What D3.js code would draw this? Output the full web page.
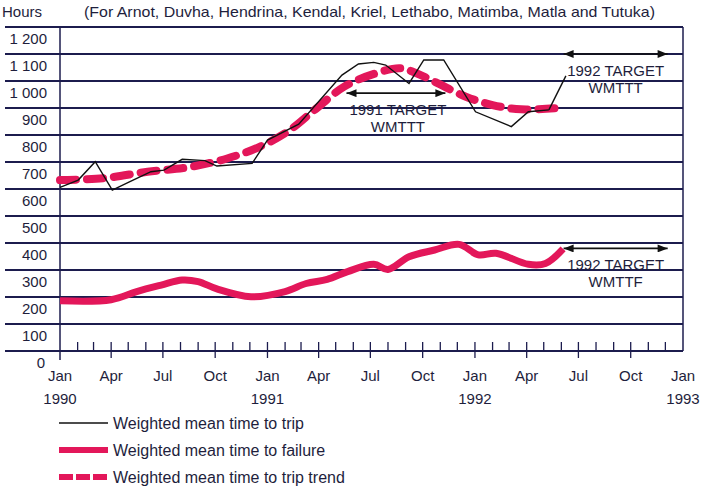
<!DOCTYPE html>
<html>
<head>
<meta charset="utf-8">
<script src="https://cdn.jsdelivr.net/npm/d3@7"></script>
<style>
  body { margin: 0; background: #fff; }
  #chart { width: 702px; height: 488px; }
  text { font-family: "Liberation Sans", Arial, sans-serif; font-size: 15px; fill: #1e1e3c; }
  .legend text { font-size: 16px; }
</style>
</head>
<body>
<div id="chart"></div>
<script>
// values (hours)
const tripDates = ['1990-01-01', '1990-02-02', '1990-03-04', '1990-04-03', '1990-05-04', '1990-06-10',
  '1990-07-03', '1990-08-04', '1990-09-13', '1990-10-04', '1990-12-05', '1991-01-01', '1991-02-25',
  '1991-05-12', '1991-06-10', '1991-07-07', '1991-07-28', '1991-09-07', '1991-10-03', '1991-11-07',
  '1992-01-02', '1992-03-05', '1992-04-04', '1992-05-10'];
const tripHours = [606, 633, 701, 596, 627, 664, 670, 710, 705, 685, 695, 781, 840,
  1022, 1063, 1069, 1059, 991, 1078, 1078, 886, 831, 886, 893];

const failureDates = ['1990-01-01', '1990-04-01', '1990-05-16', '1990-06-28', '1990-08-04', '1990-09-01',
  '1990-10-04', '1990-12-03', '1991-02-01', '1991-03-10', '1991-04-16', '1991-05-22', '1991-07-07',
  '1991-08-01', '1991-09-07', '1991-10-22', '1991-12-04', '1992-01-07', '1992-02-07', '1992-04-04',
  '1992-05-04', '1992-06-04'];
const failureHours = [186, 190, 220, 244, 263, 257, 230, 201, 220, 250, 265, 294, 321,
  302, 349, 374, 395, 356, 362, 321, 324, 378];

const trendDates = ['1990-01-01', '1990-03-19', '1990-06-04', '1990-08-13', '1990-10-22', '1990-12-19',
  '1991-02-07', '1991-03-25', '1991-05-16', '1991-07-10', '1991-08-22', '1991-09-19', '1991-10-28',
  '1991-12-16', '1992-02-01', '1992-03-22', '1992-06-07'];
const trendHours = [633, 640, 664, 680, 713, 757, 815, 893, 979, 1028, 1047, 1030, 991,
  942, 911, 895, 902];

const targetNames = [['1991 TARGET', 'WMTTT'], ['1992 TARGET', 'WMTTT'], ['1992 TARGET', 'WMTTF']];
const targetFrom = ['1991-05-20', '1992-06-05', '1992-06-05'];
const targetTo = ['1991-11-10', '1992-12-05', '1992-12-05'];
const targetHours = [955, 1100, 380];

const yTicks = [0, 100, 200, 300, 400, 500, 600, 700, 800, 900, 1000, 1100, 1200];
const monthNames = ['Jan', 'Apr', 'Jul', 'Oct'];
const years = [1990, 1991, 1992, 1993];

const legendLabels = ['Weighted mean time to trip', 'Weighted mean time to failure', 'Weighted mean time to trip trend'];

const RED = '#e3175a';
const NAVY = '#1c1c4e';

class ReliabilityChart {
  constructor(parentContainer) {
    this.width = 702;
    this.height = 488;
    this.createElements(parentContainer);
    this.updateElements();
  }

  createElements(parentContainer) {
    this.svg = d3.select(parentContainer)
      .append('svg')
      .attr('width', this.width)
      .attr('height', this.height);

    const defs = this.svg.append('defs');
    defs.append('marker')
      .attr('id', 'head')
      .attr('viewBox', '0 0 10 8')
      .attr('refX', 10)
      .attr('refY', 4)
      .attr('markerUnits', 'userSpaceOnUse')
      .attr('markerWidth', 11)
      .attr('markerHeight', 8)
      .attr('orient', 'auto-start-reverse')
      .append('path')
      .attr('d', 'M0,0 L10,4 L0,8 Z')
      .attr('fill', '#111');
  }

  updateElements() {
    const svg = this.svg;
    const parse = d3.timeParse('%Y-%m-%d');

    const x = d3.scaleTime()
      .domain([new Date(1990, 0, 1), new Date(1993, 0, 1)])
      .range([60, 683]);
    const y = d3.scaleLinear().domain([0, 1200]).range([351, 27]);

    // header
    svg.append('text').attr('x', 2).attr('y', 17).text('Hours');
    svg.append('text').attr('x', 84).attr('y', 17)
      .attr('textLength', 571).attr('lengthAdjust', 'spacingAndGlyphs')
      .text('(For Arnot, Duvha, Hendrina, Kendal, Kriel, Lethabo, Matimba, Matla and Tutuka)');

    // horizontal rules run under the labels too
    svg.append('g').selectAll('line')
      .data(yTicks)
      .join('line')
      .attr('x1', 5).attr('x2', 683)
      .attr('y1', d => y(d)).attr('y2', d => y(d))
      .attr('stroke', NAVY)
      .attr('stroke-width', 2);

    svg.append('g').selectAll('text')
      .data(yTicks)
      .join('text')
      .attr('x', d => d === 0 ? 45 : 47)
      .attr('y', d => y(d) + 17)
      .attr('text-anchor', 'end')
      .text(d => d3.format(',')(d).replace(',', ' '));

    // frame
    svg.append('line').attr('x1', 60).attr('x2', 60).attr('y1', y(1200)).attr('y2', 360)
      .attr('stroke', NAVY).attr('stroke-width', 1.5);
    svg.append('line').attr('x1', 683).attr('x2', 683).attr('y1', y(1200)).attr('y2', y(0))
      .attr('stroke', NAVY).attr('stroke-width', 1.5);

    // month ticks, quarters reach below the axis
    const months = d3.timeMonth.range(new Date(1990, 1, 1), new Date(1993, 0, 1));
    svg.append('g').selectAll('line')
      .data(months)
      .join('line')
      .attr('x1', d => x(d)).attr('x2', d => x(d))
      .attr('y1', y(0) - 9)
      .attr('y2', d => d.getMonth() % 3 === 0 ? y(0) + 7 : y(0))
      .attr('stroke', NAVY)
      .attr('stroke-width', 1.3);

    const quarters = d3.timeMonth.every(3).range(new Date(1990, 0, 1), new Date(1993, 0, 2));
    svg.append('g').selectAll('text')
      .data(quarters)
      .join('text')
      .attr('x', d => x(d))
      .attr('y', 381)
      .attr('text-anchor', 'middle')
      .text(d => monthNames[d.getMonth() / 3]);

    svg.append('g').selectAll('text')
      .data(years)
      .join('text')
      .attr('x', d => x(new Date(d, 0, 1)))
      .attr('y', 404)
      .attr('text-anchor', 'middle')
      .text(d => d);

    // series
    const series = (dates, hours) => dates.map((d, i) => ({ date: parse(d), value: hours[i] }));
    const trip = series(tripDates, tripHours);
    const failure = series(failureDates, failureHours);
    const trend = series(trendDates, trendHours);

    const straight = d3.line().x(d => x(d.date)).y(d => y(d.value));
    const smooth = d3.line().x(d => x(d.date)).y(d => y(d.value)).curve(d3.curveCatmullRom.alpha(0.5));

    svg.append('path').datum(failure)
      .attr('d', smooth)
      .attr('fill', 'none')
      .attr('stroke', RED)
      .attr('stroke-width', 7)
      .attr('stroke-linejoin', 'round');

    svg.append('path').datum(trend)
      .attr('d', smooth)
      .attr('fill', 'none')
      .attr('stroke', RED)
      .attr('stroke-width', 8)
      .attr('stroke-linecap', 'round')
      .attr('stroke-dasharray', '16 11');

    svg.append('path').datum(trip)
      .attr('d', straight)
      .attr('fill', 'none')
      .attr('stroke', '#111')
      .attr('stroke-width', 1.4);

    // leader from the last trip reading up to the 1992 label
    const last = trip[trip.length - 1];
    svg.append('line')
      .attr('x1', x(last.date)).attr('y1', y(last.value))
      .attr('x2', x(last.date) + 17).attr('y2', y(last.value) - 34)
      .attr('stroke', '#111').attr('stroke-width', 1.4);

    // target arrows
    targetNames.forEach((names, i) => {
      const x0 = x(parse(targetFrom[i]));
      const x1 = x(parse(targetTo[i]));
      const ty = y(targetHours[i]);
      svg.append('line')
        .attr('x1', x0).attr('x2', x1).attr('y1', ty).attr('y2', ty)
        .attr('stroke', '#111').attr('stroke-width', 1.6)
        .attr('marker-start', 'url(#head)')
        .attr('marker-end', 'url(#head)');
      const cx = (x0 + x1) / 2 + (i === 0 ? 2 : 0);
      svg.append('text').attr('x', cx).attr('y', ty + 22).attr('text-anchor', 'middle').text(names[0]);
      svg.append('text').attr('x', cx).attr('y', ty + 39).attr('text-anchor', 'middle').text(names[1]);
    });

    // legend
    const legend = svg.append('g').attr('class', 'legend').selectAll('g')
      .data(legendLabels)
      .join('g')
      .attr('transform', (d, i) => `translate(0, ${423 + i * 27})`);

    legend.append('line')
      .attr('x1', 59).attr('x2', 108)
      .attr('stroke', (d, i) => i === 0 ? '#111' : RED)
      .attr('stroke-width', (d, i) => i === 0 ? 1.4 : 6)
      .attr('stroke-dasharray', (d, i) => i === 2 ? '14 3' : null);

    legend.append('text')
      .attr('x', 113)
      .attr('y', 6)
      .text(d => d);
  }
}

new ReliabilityChart(document.getElementById('chart'));
</script>
</body>
</html>
